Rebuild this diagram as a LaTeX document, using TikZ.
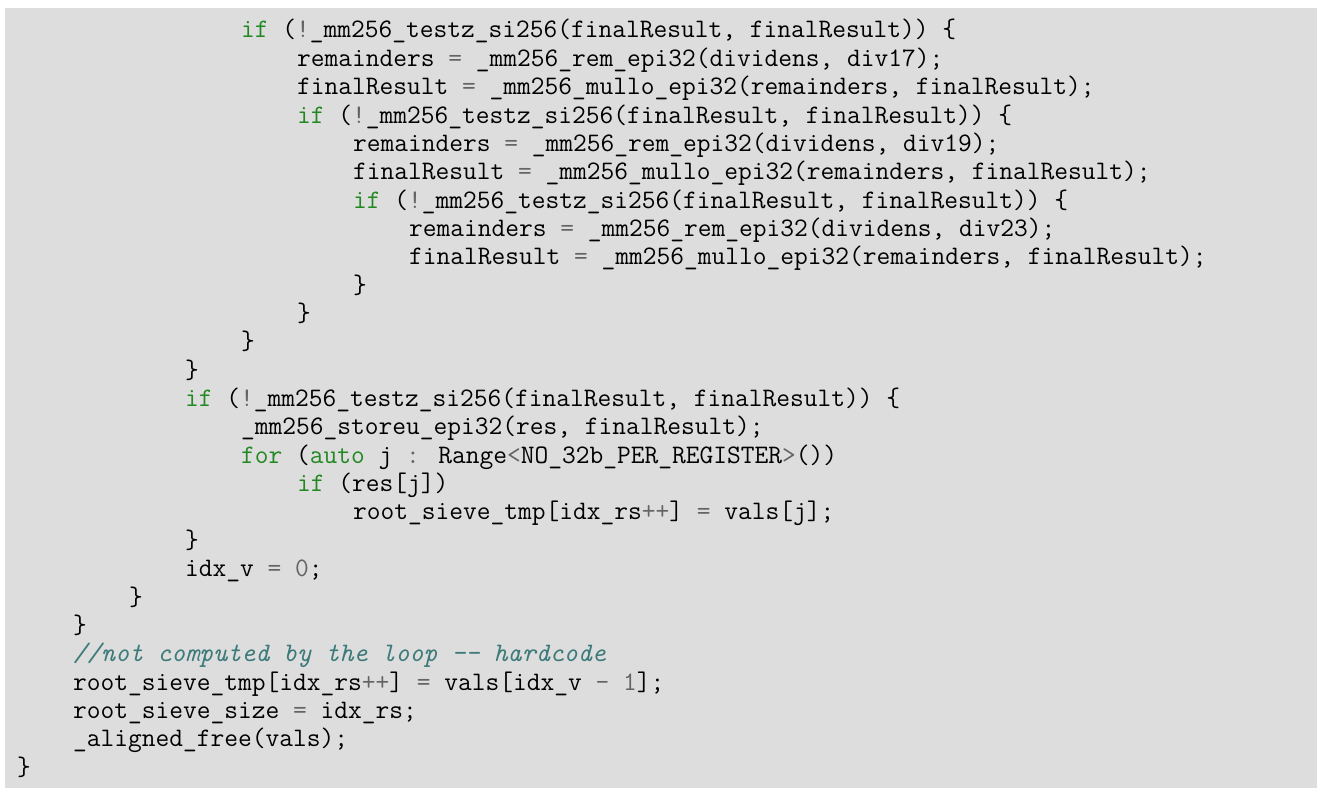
\documentclass[tikz,border=0pt]{standalone}
\definecolor{bg}{RGB}{221,221,221}
\definecolor{kwc}{RGB}{34,136,34}
\definecolor{opc}{RGB}{100,100,100}
\definecolor{cmc}{RGB}{61,122,122}
\newcommand{\kw}[1]{\textcolor{kwc}{#1}}
\newcommand{\op}[1]{\textcolor{opc}{#1}}
\newcommand{\cm}[1]{\textcolor{cmc}{\itshape #1}}
\def\_{\char95\relax}
\def\{{\char123\relax}
\def\}{\char125\relax}
\begin{document}
\begin{tikzpicture}[x=1pt,y=-1pt,
  ln/.style={anchor=base west,inner sep=0pt,font=\fontsize{26.7}{28}\selectfont\ttfamily}]
\useasboundingbox (0,0) rectangle (1322,797);
\fill[bg] (5,8) rectangle (1317,788);
\def\dy{28.35}
\def\cx{14}
\node[ln] (l1) at (17+16*\cx,38) {\kw{if} (\op{!}\_mm256\_testz\_si256(finalResult, finalResult)) \{};
\node[ln] (l2) at (17+20*\cx,38+1*\dy) {remainders \op{=} \_mm256\_rem\_epi32(dividens, div17);};
\node[ln] (l3) at (17+20*\cx,38+2*\dy) {finalResult \op{=} \_mm256\_mullo\_epi32(remainders, finalResult);};
\node[ln] (l4) at (17+20*\cx,38+3*\dy) {\kw{if} (\op{!}\_mm256\_testz\_si256(finalResult, finalResult)) \{};
\node[ln] (l5) at (17+24*\cx,38+4*\dy) {remainders \op{=} \_mm256\_rem\_epi32(dividens, div19);};
\node[ln] (l6) at (17+24*\cx,38+5*\dy) {finalResult \op{=} \_mm256\_mullo\_epi32(remainders, finalResult);};
\node[ln] (l7) at (17+24*\cx,38+6*\dy) {\kw{if} (\op{!}\_mm256\_testz\_si256(finalResult, finalResult)) \{};
\node[ln] (l8) at (17+28*\cx,38+7*\dy) {remainders \op{=} \_mm256\_rem\_epi32(dividens, div23);};
\node[ln] (l9) at (17+28*\cx,38+8*\dy) {finalResult \op{=} \_mm256\_mullo\_epi32(remainders, finalResult);};
\node[ln] (l10) at (17+24*\cx,38+9*\dy) {\}};
\node[ln] (l11) at (17+20*\cx,38+10*\dy) {\}};
\node[ln] (l12) at (17+16*\cx,38+11*\dy) {\}};
\node[ln] (l13) at (17+12*\cx,38+12*\dy) {\}};
\node[ln] (l14) at (17+12*\cx,38+13*\dy) {\kw{if} (\op{!}\_mm256\_testz\_si256(finalResult, finalResult)) \{};
\node[ln] (l15) at (17+16*\cx,38+14*\dy) {\_mm256\_storeu\_epi32(res, finalResult);};
\node[ln] (l16) at (17+16*\cx,38+15*\dy) {\kw{for} (\kw{auto} j \op{:} Range\op{<}NO\_32b\_PER\_REGISTER\op{>}())};
\node[ln] (l17) at (17+20*\cx,38+16*\dy) {\kw{if} (res[j])};
\node[ln] (l18) at (17+24*\cx,38+17*\dy) {root\_sieve\_tmp[idx\_rs\op{++}] \op{=} vals[j];};
\node[ln] (l19) at (17+12*\cx,38+18*\dy) {\}};
\node[ln] (l20) at (17+12*\cx,38+19*\dy) {idx\_v \op{=} \op{0};};
\node[ln] (l21) at (17+8*\cx,38+20*\dy) {\}};
\node[ln] (l22) at (17+4*\cx,38+21*\dy) {\}};
\node[ln] (l23) at (17+4*\cx,38+22*\dy) {\cm{//not computed by the loop -{}- hardcode}};
\node[ln] (l24) at (17+4*\cx,38+23*\dy) {root\_sieve\_tmp[idx\_rs\op{++}] \op{=} vals[idx\_v \op{-} \op{1}];};
\node[ln] (l25) at (17+4*\cx,38+24*\dy) {root\_sieve\_size \op{=} idx\_rs;};
\node[ln] (l26) at (17+4*\cx,38+25*\dy) {\_aligned\_free(vals);};
\node[ln] (l27) at (17,38+26*\dy) {\}};
\end{tikzpicture}
\end{document}
